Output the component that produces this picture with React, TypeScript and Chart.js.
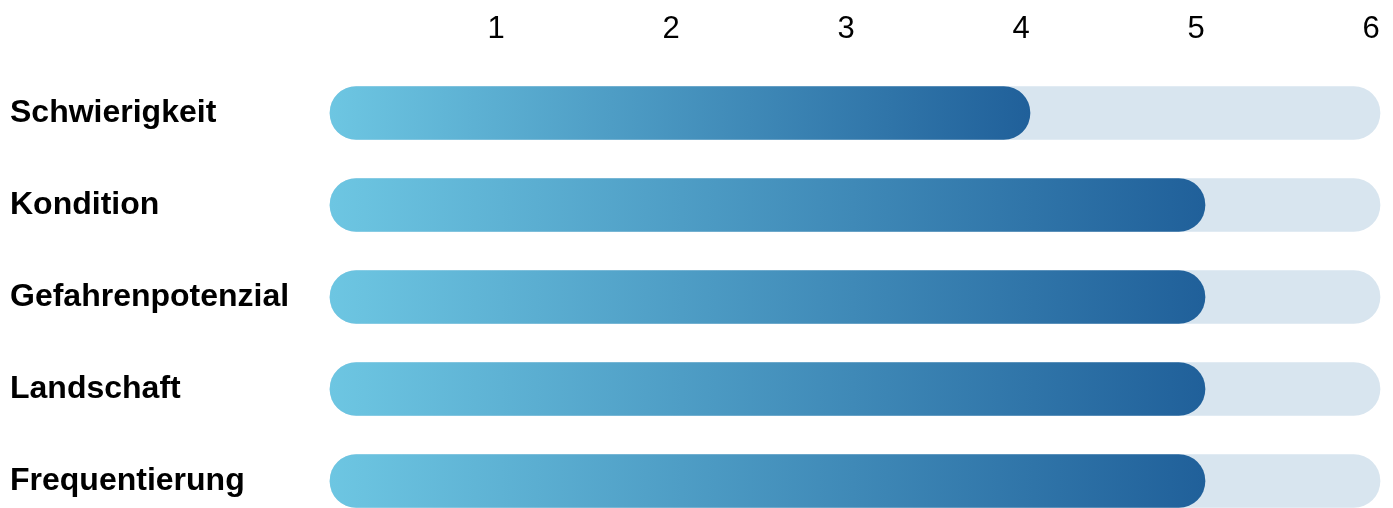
import React, { useEffect, useRef } from "react";
import { Chart, registerables } from "chart.js";

Chart.register(...registerables);

const categories = ["Schwierigkeit", "Kondition", "Gefahrenpotenzial", "Landschaft", "Frequentierung"];
const ratings = [4, 5, 5, 5, 5];
const maxRating = 6;
const trackValues = [6, 6, 6, 6, 6];
const tickValues = [0, 1, 2, 3, 4, 5, 6];

const gradStart = "#6dc6e2";
const gradEnd = "#20609a";
const trackColor = "#d8e5ef";

export default function App() {
  const ref = useRef<HTMLCanvasElement | null>(null);

  useEffect(() => {
    document.body.style.margin = "0";
    const canvas = ref.current;
    if (!canvas) return;
    const chart = new Chart(canvas, {
      type: "bar",
      data: {
        labels: categories,
        datasets: [
          {
            label: "Bewertung",
            data: ratings,
            order: 1,
            barThickness: 53,
            borderRadius: 27,
            borderSkipped: false,
            clip: false as any,
            backgroundColor: (ctx: any) => {
              const c = ctx.chart;
              const xs = c.scales?.x;
              if (!xs || !c.chartArea || ctx.dataIndex === undefined) return gradEnd;
              const v = ratings[ctx.dataIndex] ?? 0;
              const x0 = xs.getPixelForValue(0);
              const x1 = xs.getPixelForValue(v);
              if (!isFinite(x0) || !isFinite(x1) || x1 <= x0) return gradEnd;
              const g = c.ctx.createLinearGradient(x0, 0, x1, 0);
              g.addColorStop(0, gradStart);
              g.addColorStop(1, gradEnd);
              return g;
            },
          },
          {
            label: "Skala",
            data: trackValues,
            order: 2,
            barThickness: 53,
            borderRadius: 27,
            borderSkipped: false,
            clip: false as any,
            backgroundColor: trackColor,
          },
        ],
      },
      options: {
        indexAxis: "y",
        animation: false,
        responsive: false,
        maintainAspectRatio: false,
        layout: { padding: { left: 10, right: 13, top: 0, bottom: 27 } },
        plugins: { legend: { display: false }, tooltip: { enabled: false } },
        datasets: { bar: { grouped: false } } as any,
        scales: {
          x: {
            type: "linear",
            position: "top",
            min: 0,
            max: maxRating,
            afterBuildTicks: (axis: any) => {
              axis.ticks = tickValues.map((v) => ({ value: v }));
            },
            afterFit: (axis: any) => {
              axis.height = 113;
              axis.paddingLeft = 0;
              axis.paddingRight = 0;
            },
            grid: { display: false, drawTicks: true, tickLength: 62 },
            border: { display: false },
            ticks: {
              padding: 3,
              labelOffset: -9,
              color: "#000",
              font: { family: "'Liberation Sans', Arial, sans-serif", size: 31 },
              callback: (v: any) => (Number(v) === 0 ? "" : String(v)),
            },
          },
          y: {
            type: "category",
            offset: false,
            afterFit: (axis: any) => {
              axis.width = 320;
              axis.paddingTop = 0;
              axis.paddingBottom = 0;
            },
            grid: { display: false, drawTicks: false },
            border: { display: false },
            ticks: {
              crossAlign: "far",
              padding: 10,
              color: "#000",
              font: { family: "'Liberation Sans', Arial, sans-serif", size: 32, weight: "bold" },
            },
          },
        },
      },
    });
    return () => chart.destroy();
  }, []);

  return (
    <div style={{ width: 1393, height: 508 }}>
      <canvas ref={ref} width={1393} height={508} style={{ display: "block", width: 1393, height: 508 }} />
    </div>
  );
}
